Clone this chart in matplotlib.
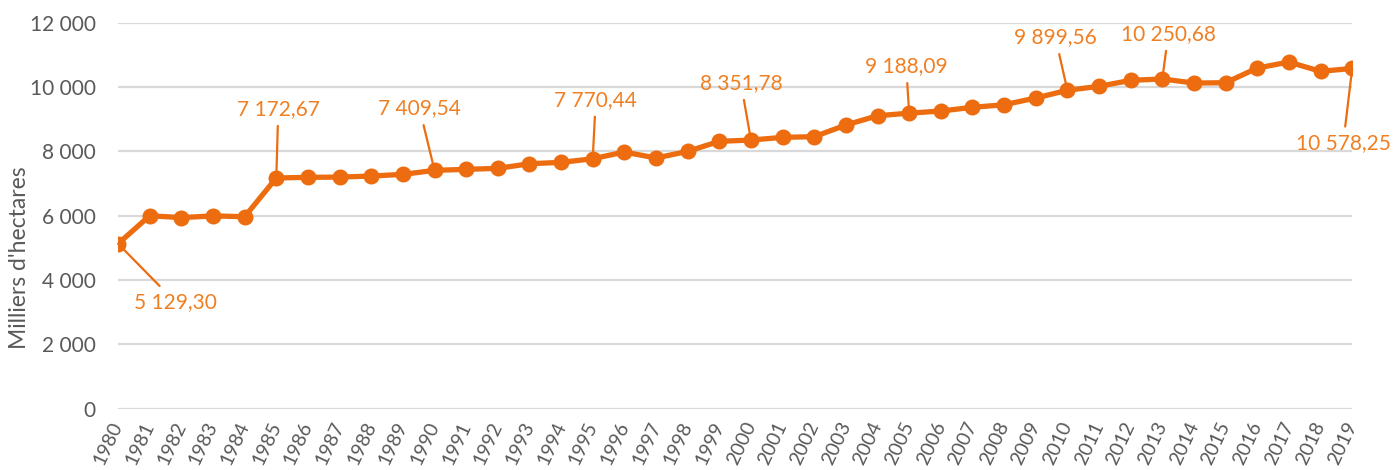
import numpy as np
import matplotlib
matplotlib.use("Agg")
import matplotlib.pyplot as plt
from matplotlib.ticker import FuncFormatter

# =========================================
# DATA
# =========================================
years = list(range(1980, 2020))
surface = [
    5129.30, 6000, 5940, 5995, 5968, 7172.67, 7193, 7200, 7233, 7285,
    7409.54, 7441, 7472, 7616, 7658, 7770.44, 7980, 7793, 8000, 8312,
    8351.78, 8436, 8456, 8819, 9108, 9188.09, 9254, 9369, 9450, 9658,
    9899.56, 10022, 10208, 10250.68, 10124, 10134, 10591, 10777, 10488, 10578.25,
]
labelled_years = [1980, 1985, 1990, 1995, 2000, 2005, 2010, 2013, 2019]

# label offsets from the point, in pixels (dx, dy)
label_offsets = {
    1980: (57, -58), 1985: (2, 69), 1990: (-15, 62), 1995: (3, 59),
    2000: (-10, 57), 2005: (-3, 47), 2010: (-12, 53), 2013: (6, 45),
    2019: (-9, -75),
}

# =========================================
# STYLE
# =========================================
LINE_COLOR = "#EC6C0F"
TEXT_ORANGE = "#F07F22"
GREY = "#595959"
GRID = "#D9D9D9"
FS = 15
plt.rcParams["font.family"] = ["Lato", "DejaVu Sans"]


def fr_number(v, decimals=0):
    s = f"{v:,.{decimals}f}"
    return s.replace(",", " ").replace(".", ",")


fig = plt.figure(figsize=(13.94, 4.70), dpi=100)
ax = fig.add_axes([0.0847, 0.1304, 0.8853, 0.8213])

ax.plot(years, surface, color=LINE_COLOR, linewidth=3.8, marker="o",
        markersize=10.5, zorder=3)

ax.set_xlim(years[0], years[-1])
ax.set_ylim(0, 12000)
ax.set_yticks(np.arange(0, 12001, 2000))
ax.yaxis.set_major_formatter(FuncFormatter(lambda v, p: fr_number(v)))
ax.set_xticks(years)
ax.set_xticklabels([str(y) for y in years], rotation=65, ha="right",
                   va="center", rotation_mode="anchor")

ax.grid(axis="y", color=GRID, linewidth=1.6)
ax.set_axisbelow(True)
for spine in ax.spines.values():
    spine.set_visible(False)
ax.tick_params(axis="y", length=0, pad=16, labelsize=FS, labelcolor=GREY)
ax.tick_params(axis="x", length=0, pad=10, labelsize=14, labelcolor=GREY)
ax.set_ylabel("Milliers d'hectares", fontsize=16.5, color=GREY)
ax.yaxis.set_label_coords(-0.071, 0.39)

for y in labelled_years:
    v = surface[years.index(y)]
    dx, dy = label_offsets[y]
    ax.annotate(fr_number(v, 2), xy=(y, v), xytext=(dx, dy),
                textcoords="offset pixels", ha="center", va="center",
                fontsize=FS, color=TEXT_ORANGE,
                arrowprops=dict(arrowstyle="-", color=LINE_COLOR, lw=1.6,
                                shrinkA=3, shrinkB=0))

fig.savefig("out.png", dpi=100)
